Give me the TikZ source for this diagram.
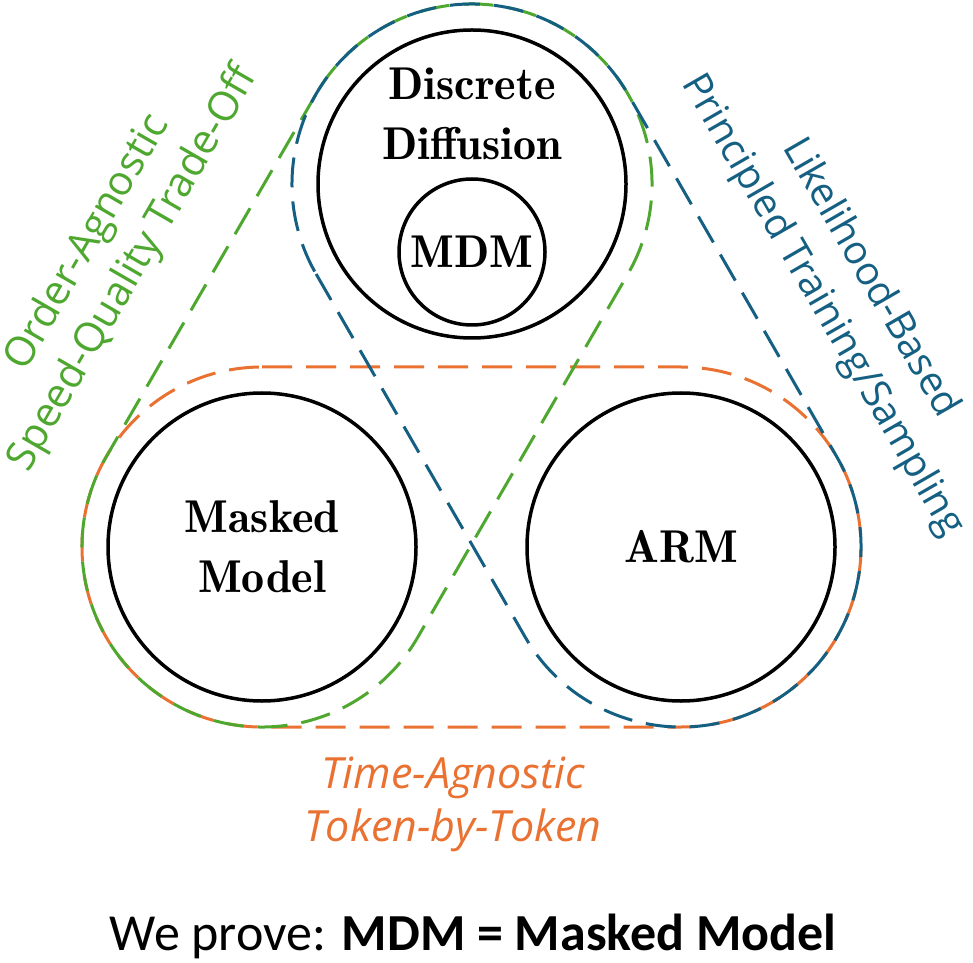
\documentclass[tikz,border=0pt]{standalone}
\usepackage{fontspec}
\setsansfont{Carlito}
\newfontfamily\propfont{Open Sans}
\newfontfamily\demifont{lmromandemi10-regular.otf}
\usepackage{tikz}
\usetikzlibrary{calc,positioning}

\definecolor{likeBlue}{HTML}{156082}
\definecolor{orderGreen}{HTML}{4EA72E}
\definecolor{timeOrange}{HTML}{E97132}

\begin{document}
\begin{tikzpicture}[x=1pt, y=1pt,
	model/.style  = {circle, draw, line width=3.5pt, minimum size=308pt, inner sep=0pt},
	submodel/.style = {circle, draw, line width=3.5pt, minimum size=146pt, inner sep=0pt},
	modelname/.style = {align=center, font=\demifont\fontsize{46}{60}\selectfont},
	hull/.style   = {line width=3pt, dash pattern=on 30pt off 14pt},
	property/.style = {align=center, font=\propfont\fontsize{41}{53}\selectfont}]
	
	\useasboundingbox (0,0) rectangle (973,962);
	\def\R{180}
	
	% The three model families, as circles
	\node[model] (mm)  at (262,415) {};
	\node[model] (arm) at (681,415) {};
	\node[model] (dd)  at (472,778) {};
	\node[submodel] (mdm) at (472,710) {};
	
	% Names inside the circles
	\node[modelname] (ddname)  at (472,848) {Discrete\\Diffusion};
	\node[modelname] (mdmname) at (mdm) {MDM};
	\node[modelname] (mmname)  at (mm) {Masked\\Model};
	\node[modelname] (armname) at (arm) {ARM};
	
	% Dashed hulls round each pair of circles
	\draw[hull, timeOrange] ($(mm)+(0,\R)$) -- ($(arm)+(0,\R)$)
		arc[start angle=90, end angle=-90, radius=\R] -- ($(mm)+(0,-\R)$)
		arc[start angle=270, end angle=90, radius=\R] -- cycle;
	
	\draw[hull, orderGreen] ($(dd)+(150:\R)$) -- ($(mm)+(150:\R)$)
		arc[start angle=150, end angle=330, radius=\R] -- ($(dd)+(-30:\R)$)
		arc[start angle=-30, end angle=150, radius=\R] -- cycle;
	
	\draw[hull, likeBlue] ($(dd)+(210:\R)$) -- ($(arm)+(210:\R)$)
		arc[start angle=210, end angle=390, radius=\R] -- ($(dd)+(30:\R)$)
		arc[start angle=30, end angle=210, radius=\R] -- cycle;
	
	% Properties shared by each pair
	\node[property, text=orderGreen, rotate=60] (order) at (111,706) {Order-Agnostic\\Speed-Quality Trade-Off};
	\node[property, text=likeBlue, rotate=-60, font=\propfont\fontsize{39.5}{55}\selectfont] (like) at (846,670) {Likelihood-Based\\Principled Training/Sampling};
	\node[property, text=timeOrange, font=\propfont\itshape\fontsize{43}{53}\selectfont] (time) at (453,158) {Time-Agnostic\\Token-by-Token};
	
	% Result
	\node[anchor=base, font=\sffamily\fontsize{52}{60}\selectfont] (result) at (473,12) {We prove: \textbf{MDM = Masked Model}};
	
\end{tikzpicture}
\end{document}
